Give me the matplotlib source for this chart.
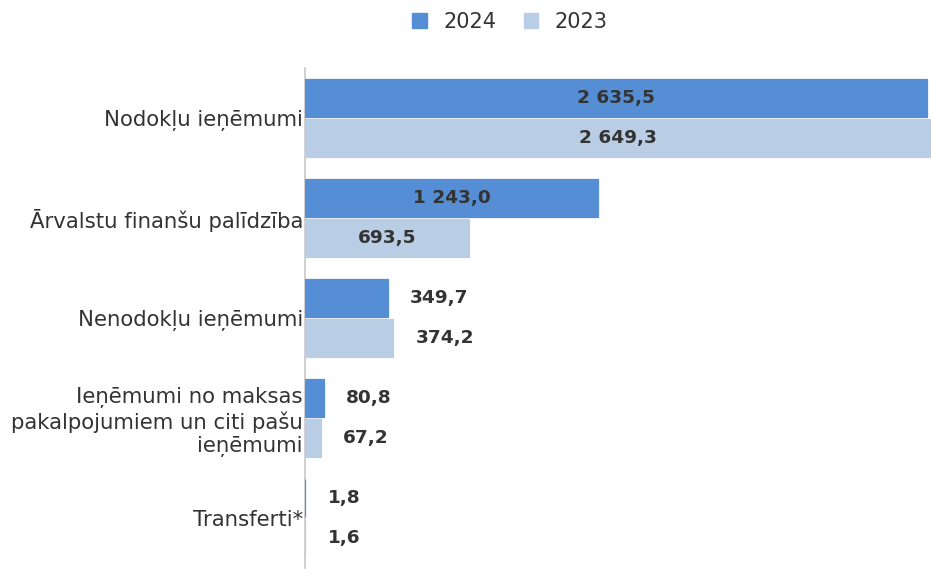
import numpy as np
import matplotlib
matplotlib.use("Agg")
import matplotlib.pyplot as plt
from matplotlib.patches import Patch

# data
categories = [
    "Nodokļu ieņēmumi",
    "Ārvalstu finanšu palīdzība",
    "Nenodokļu ieņēmumi",
    "Ieņēmumi no maksas\npakalpojumiem un citi pašu\nieņēmumi",
    "Transferti*",
]
vals_2024 = [2635.5, 1243.0, 349.7, 80.8, 1.8]
vals_2023 = [2649.3, 693.5, 374.2, 67.2, 1.6]
series_names = ["2024", "2023"]

col_2024 = "#558ed5"
col_2023 = "#b9cde5"
txt_col = "#333333"

plt.rcParams['font.family'] = ['DejaVu Sans']

def fmt(v):
    # latvian style: space as thousand sep, comma as decimal
    s = f"{v:,.1f}"
    return s.replace(",", " ").replace(".", ",")

fig = plt.figure(figsize=(9.31, 5.69), dpi=100)
ax = fig.add_axes([305 / 931, 1 / 569, 626 / 931, 500 / 569])

y = np.arange(len(categories))
h = 0.385
b1 = ax.barh(y - 0.2, vals_2024, height=h, color=col_2024, edgecolor=col_2024,
             linewidth=0.9, zorder=3)
b2 = ax.barh(y + 0.2, vals_2023, height=h, color=col_2023, edgecolor=col_2023,
             linewidth=0.9, zorder=3)

for bars, vals in [(b1, vals_2024), (b2, vals_2023)]:
    for rect, v in zip(bars, vals):
        yc = rect.get_y() + rect.get_height() / 2
        if v > 500:
            ax.text(v / 2, yc, fmt(v), ha="center", va="center",
                    fontsize=13.3, fontweight="bold", color=txt_col, zorder=4)
        else:
            ax.annotate(fmt(v), (v, yc), xytext=(16, 0), textcoords="offset points",
                        ha="left", va="center", fontsize=13.3, fontweight="bold", color=txt_col)

ax.set_xlim(0, 2652)
ax.set_ylim(len(categories) - 0.5, -0.5)
ax.set_yticks(y)
ax.set_yticklabels(categories, fontsize=15.3, color=txt_col, linespacing=1.2)
ax.tick_params(axis="y", length=0, pad=1.5)
ax.xaxis.set_visible(False)
for sp in ["top", "right", "bottom"]:
    ax.spines[sp].set_visible(False)
ax.spines["left"].set_color("#c8c8c8")
ax.spines["left"].set_linewidth(1.2)

handles = [Patch(color=col_2024), Patch(color=col_2023)]
fig.legend(handles, series_names, loc="center", bbox_to_anchor=(510 / 931, 1 - 22 / 569),
           ncol=2, frameon=False, fontsize=15, handlelength=0.7, handleheight=0.7,
           handletextpad=0.8, columnspacing=1.3, labelcolor=txt_col)

fig.savefig("out.png", dpi=100)
